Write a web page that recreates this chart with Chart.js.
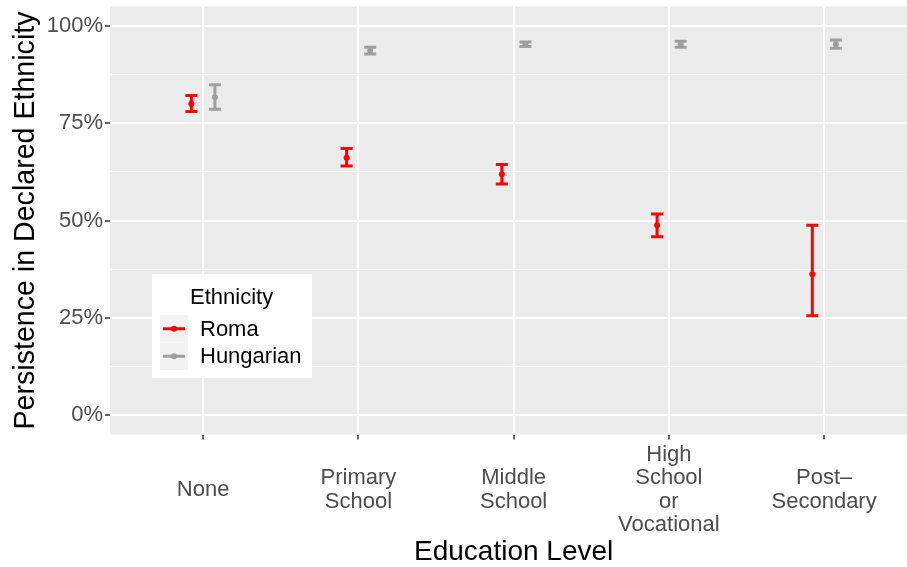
<!DOCTYPE html>
<html>
<head>
<meta charset="utf-8">
<script src="https://cdn.jsdelivr.net/npm/chart.js@4.4.1/dist/chart.umd.min.js"></script>
<style>
  html, body { margin: 0; padding: 0; background: #ffffff; }
  canvas { display: block; }
</style>
</head>
<body>
<canvas id="chart" width="907" height="567"></canvas>
<script>
// Education levels (multi-line tick labels)
const categories = [
  ['None'],
  ['Primary', 'School'],
  ['Middle', 'School'],
  ['High', 'School', 'or', 'Vocational'],
  ['Post\u2013', 'Secondary']
];
const groups = ['Roma', 'Hungarian'];
const xTitle = 'Education Level';
const yTitle = 'Persistence in Declared Ethnicity';

// Share persisting in declared ethnicity, with interval bounds
const romaMean = [0.800, 0.661, 0.619, 0.488, 0.362];
const romaLow  = [0.780, 0.640, 0.594, 0.458, 0.255];
const romaHigh = [0.821, 0.685, 0.644, 0.517, 0.488];

const hunMean = [0.817, 0.937, 0.953, 0.953, 0.953];
const hunLow  = [0.786, 0.928, 0.947, 0.945, 0.943];
const hunHigh = [0.849, 0.945, 0.959, 0.961, 0.964];

const yMajorTicks = [0, 0.25, 0.5, 0.75, 1];
const yMinorTicks = [0.125, 0.375, 0.625, 0.875];

const FONT = "'Liberation Sans', Arial, Helvetica, sans-serif";
const COLORS = ['#FF0000', '#9E9E9E'];
const DODGE = 0.076;

Chart.defaults.font.family = FONT;

const isMajor = v => yMajorTicks.some(t => Math.abs(t - v) < 1e-9);

// Grey panel behind the plotting area
const panelBackground = {
  id: 'panelBackground',
  beforeDraw(chart) {
    const { ctx, chartArea: a } = chart;
    ctx.save();
    ctx.fillStyle = '#EBEBEB';
    ctx.fillRect(a.left, a.top, a.right - a.left, a.bottom - a.top);
    ctx.restore();
  }
};

// Vertical interval whiskers with caps, positioned from the scales
const errorBars = {
  id: 'errorBars',
  beforeDatasetsDraw(chart) {
    const { ctx } = chart;
    const y = chart.scales.y;
    const capHalf = 6;
    chart.data.datasets.forEach((ds, di) => {
      const meta = chart.getDatasetMeta(di);
      ctx.save();
      ctx.strokeStyle = ds.backgroundColor;
      ctx.lineWidth = 3;
      ctx.lineCap = 'butt';
      meta.data.forEach((pt, j) => {
        const x = pt.x;
        const yLo = y.getPixelForValue(ds.errLow[j]);
        const yHi = y.getPixelForValue(ds.errHigh[j]);
        ctx.beginPath();
        ctx.moveTo(x, yHi);
        ctx.lineTo(x, yLo);
        ctx.moveTo(x - capHalf, yHi);
        ctx.lineTo(x + capHalf, yHi);
        ctx.moveTo(x - capHalf, yLo);
        ctx.lineTo(x + capHalf, yLo);
        ctx.stroke();
      });
      ctx.restore();
    });
  }
};

// X axis title, centred on the middle category
const xAxisTitle = {
  id: 'xAxisTitle',
  afterDraw(chart) {
    const { ctx } = chart;
    const x = chart.scales.x;
    const mid = x.getPixelForValue((categories.length + 1) / 2);
    ctx.save();
    ctx.fillStyle = '#000000';
    ctx.font = `28px ${FONT}`;
    ctx.textAlign = 'center';
    ctx.textBaseline = 'alphabetic';
    ctx.fillText(xTitle, mid, 560);
    ctx.restore();
  }
};

// Legend box placed inside the panel
const insetLegend = {
  id: 'insetLegend',
  afterDraw(chart) {
    const { ctx } = chart;
    const bx = 152, by = 274, bw = 160, bh = 104;
    const keyX = 160, keyY = 315, keyW = 28, keyH = 27.5;
    ctx.save();
    ctx.fillStyle = '#FFFFFF';
    ctx.fillRect(bx, by, bw, bh);
    ctx.fillStyle = '#000000';
    ctx.font = `22px ${FONT}`;
    ctx.textAlign = 'left';
    ctx.textBaseline = 'alphabetic';
    ctx.fillText('Ethnicity', 190, 304);
    chart.data.datasets.forEach((ds, i) => {
      const top = keyY + i * keyH;
      const cy = top + keyH / 2;
      ctx.fillStyle = '#F2F2F2';
      ctx.fillRect(keyX, top, keyW, keyH);
      ctx.strokeStyle = ds.backgroundColor;
      ctx.lineWidth = 3;
      ctx.beginPath();
      ctx.moveTo(keyX + 3, cy);
      ctx.lineTo(keyX + keyW - 3, cy);
      ctx.stroke();
      ctx.fillStyle = ds.backgroundColor;
      ctx.beginPath();
      ctx.arc(keyX + keyW / 2, cy, 3, 0, Math.PI * 2);
      ctx.fill();
      ctx.fillStyle = '#000000';
      ctx.textBaseline = 'middle';
      ctx.fillText(ds.label, 200, cy + 1);
    });
    ctx.restore();
  }
};

const makeDataset = (label, means, lows, highs, color, offset) => ({
  label,
  data: means.map((v, i) => ({ x: i + 1 + offset, y: v })),
  errLow: lows,
  errHigh: highs,
  backgroundColor: color,
  borderColor: color,
  pointRadius: 3,
  pointHoverRadius: 3,
  pointBorderWidth: 0,
  showLine: false
});

new Chart(document.getElementById('chart'), {
  type: 'scatter',
  data: {
    datasets: [
      makeDataset(groups[0], romaMean, romaLow, romaHigh, COLORS[0], -DODGE),
      makeDataset(groups[1], hunMean, hunLow, hunHigh, COLORS[1], DODGE)
    ]
  },
  options: {
    responsive: false,
    animation: false,
    events: [],
    layout: { autoPadding: false, padding: { top: 6.5, left: 0, right: 0, bottom: 0 } },
    plugins: { legend: { display: false }, tooltip: { enabled: false } },
    scales: {
      x: {
        type: 'linear',
        min: 0.4,
        max: 5.534,
        afterBuildTicks: s => { s.ticks = categories.map((c, i) => ({ value: i + 1 })); },
        afterFit: s => { s.height = 132.5; s.paddingLeft = 0; s.paddingRight = 0; },
        border: { display: false },
        grid: { color: '#FFFFFF', lineWidth: 2, tickColor: '#333333', tickLength: 5, tickWidth: 1.5 },
        ticks: {
          callback: v => categories[Math.round(v) - 1],
          color: '#4D4D4D',
          font: { size: 22, lineHeight: '23.6px' },
          padding: 15,
          crossAlign: 'center',
          maxRotation: 0,
          autoSkip: false
        },
        title: { display: false }
      },
      y: {
        type: 'linear',
        min: -0.05,
        max: 1.05,
        afterBuildTicks: s => {
          s.ticks = [...yMajorTicks, ...yMinorTicks].sort((a, b) => a - b).map(v => ({ value: v }));
        },
        afterFit: s => { s.width = 110; s.paddingTop = 0; s.paddingBottom = 0; },
        border: { display: false },
        grid: {
          color: '#FFFFFF',
          lineWidth: c => (isMajor(c.tick.value) ? 2 : 1),
          tickColor: c => (isMajor(c.tick.value) ? '#333333' : 'rgba(0,0,0,0)'),
          tickLength: 5,
          tickWidth: 1.5
        },
        ticks: {
          callback: v => (isMajor(v) ? `${Math.round(v * 100)}%` : ''),
          color: '#4D4D4D',
          font: { size: 22 },
          padding: 2,
          autoSkip: false
        },
        title: {
          display: true,
          text: yTitle,
          color: '#000000',
          font: { size: 28.6 },
          padding: { top: 9, bottom: 0 }
        }
      }
    }
  },
  plugins: [panelBackground, errorBars, xAxisTitle, insetLegend]
});
</script>
</body>
</html>
